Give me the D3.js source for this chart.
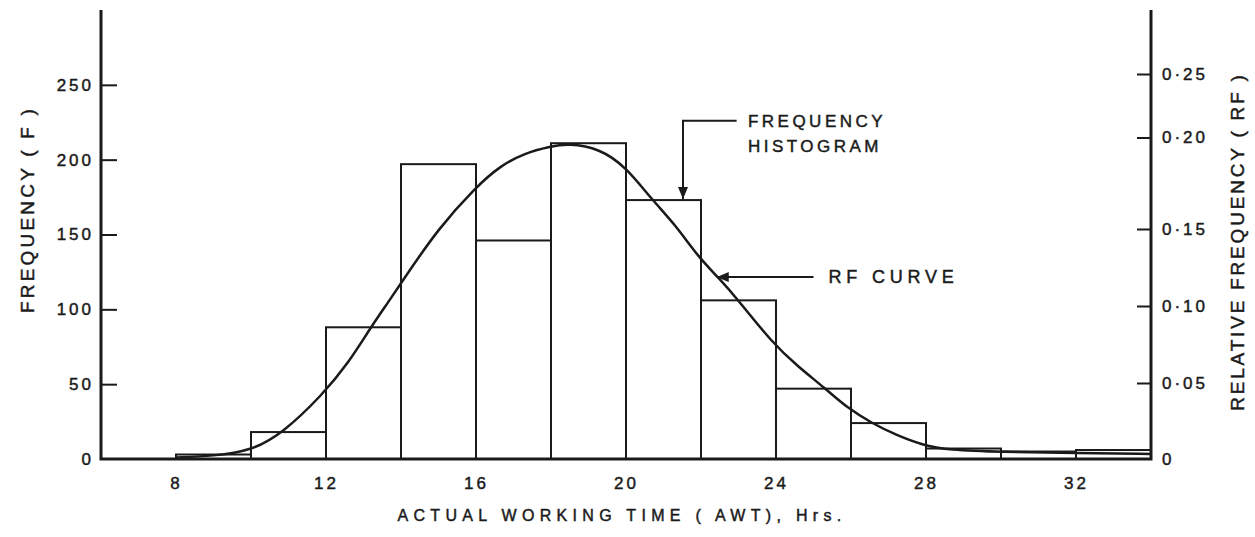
<!DOCTYPE html>
<html>
<head>
<meta charset="utf-8">
<script src="https://cdn.jsdelivr.net/npm/d3@7"></script>
<style>
  body { margin: 0; background: #fff; }
  svg { display: block; }
  text { font-family: "Liberation Sans", "DejaVu Sans", sans-serif; fill: #1a1a1a; stroke: #1a1a1a; stroke-width: 0.45px; }
</style>
</head>
<body>
<div id="chart"></div>
<script>
// histogram bins: start hour of each 2-hour class and its frequency
const binStarts = [8, 10, 12, 14, 16, 18, 20, 22, 24, 26, 28, 30, 32];
const binWidth = 2;
const frequency = [3, 18, 88, 197, 146, 211, 173, 106, 47, 24, 7, 5, 6];

// relative frequency curve
const curveHours = [8, 9, 10, 10.85, 11.9, 12.6, 13.2, 13.7, 14, 15, 16, 16.64, 17.3, 18, 18.45, 19.3, 20, 20.7, 21.3, 21.93, 22.45, 22.95, 23.9, 24.6, 25.3, 25.9, 26.55, 27.2, 27.9, 28.6, 30, 32, 34];
const curveRF = [0.001, 0.002, 0.0053, 0.0171, 0.0421, 0.063, 0.0864, 0.1039, 0.1149, 0.1505, 0.173, 0.1844, 0.1915, 0.1951, 0.1967, 0.194, 0.1839, 0.1658, 0.1527, 0.1318, 0.1188, 0.1052, 0.076, 0.0604, 0.0467, 0.0336, 0.0237, 0.0158, 0.0092, 0.0059, 0.0046, 0.0039, 0.0033];

const xTicks = [8, 12, 16, 20, 24, 28, 32];
const freqTicks = [0, 50, 100, 150, 200, 250];
const rfTicks = [0, 0.05, 0.10, 0.15, 0.20, 0.25];
const rfTickLabels = ["0", "0·05", "0·10", "0·15", "0·20", "0·25"];

const width = 1255, height = 537;
const ink = "#1a1a1a";

const svg = d3.select("#chart").append("svg")
  .attr("width", width)
  .attr("height", height);

const x = d3.scaleLinear().domain([6, 34]).range([101, 1151]);
const y = d3.scaleLinear().domain([0, 300]).range([459, 10]);
// the right-hand scale of the original is not evenly spaced
const yRF = d3.scaleLinear()
  .domain([0, 0.05, 0.10, 0.15, 0.20, 0.25, 0.30])
  .range([459, 383, 306, 229, 137.5, 74, 10]);

// arrow head
svg.append("defs").append("marker")
  .attr("id", "head")
  .attr("viewBox", "0 0 12 10")
  .attr("refX", 12).attr("refY", 5)
  .attr("markerWidth", 12).attr("markerHeight", 10)
  .attr("markerUnits", "userSpaceOnUse")
  .attr("orient", "auto")
  .append("path")
  .attr("d", "M0,0 L12,5 L0,10 Z")
  .attr("fill", ink);

// bars
svg.append("g").selectAll("rect")
  .data(binStarts)
  .join("rect")
  .attr("x", (d) => x(d))
  .attr("width", x(binWidth) - x(0))
  .attr("y", (d, i) => y(frequency[i]))
  .attr("height", (d, i) => y(0) - y(frequency[i]))
  .attr("fill", "none")
  .attr("stroke", ink)
  .attr("stroke-width", 2);

// RF curve
const line = d3.line()
  .x((d) => x(d))
  .y((d, i) => yRF(curveRF[i]))
  .curve(d3.curveBasis);

svg.append("path")
  .datum(curveHours)
  .attr("d", line)
  .attr("fill", "none")
  .attr("stroke", ink)
  .attr("stroke-width", 2.5);

// left axis
const leftAxis = svg.append("g")
  .attr("transform", `translate(${x(6)},0)`)
  .call(d3.axisLeft(y).tickValues(freqTicks).tickSizeInner(-16).tickSizeOuter(0).tickPadding(7));

// right axis
const rightAxis = svg.append("g")
  .attr("transform", `translate(${x(34)},0)`)
  .call(d3.axisRight(yRF).tickValues(rfTicks).tickSizeInner(-14).tickSizeOuter(0).tickPadding(11)
    .tickFormat((d, i) => rfTickLabels[i]));

// bottom axis
const bottomAxis = svg.append("g")
  .attr("transform", `translate(0,${y(0)})`)
  .call(d3.axisBottom(x).tickValues(xTicks).tickSize(0).tickPadding(18).tickFormat(d3.format("d")));

[leftAxis, rightAxis, bottomAxis].forEach((g) => {
  g.select(".domain").remove();
  g.selectAll(".tick line").attr("stroke", ink).attr("stroke-width", 2);
  g.selectAll(".tick text")
    .attr("fill", ink)
    .style("font-size", "17px")
    .style("letter-spacing", "3px")
    .style("font-family", "\"Liberation Sans\", sans-serif");
});
leftAxis.selectAll(".tick").filter((d) => d === 0).select("line").remove();
rightAxis.selectAll(".tick").filter((d) => d === 0).select("line").remove();

// frame lines: left, bottom, right
svg.append("path")
  .attr("d", `M${x(6)},${y(300)} V${y(0)} H${x(34)} V${y(300)}`)
  .attr("fill", "none")
  .attr("stroke", ink)
  .attr("stroke-width", 3);

// axis titles
svg.append("text")
  .attr("transform", `translate(27,${(y(0) + y(300)) / 2 - 25}) rotate(-90)`)
  .attr("text-anchor", "middle")
  .attr("dy", "0.35em")
  .style("font-size", "19px")
  .style("letter-spacing", "3.2px")
  .text("FREQUENCY ( F )");

svg.append("text")
  .attr("transform", `translate(1237,${(y(0) + y(300)) / 2 + 7}) rotate(-90)`)
  .attr("text-anchor", "middle")
  .attr("dy", "0.35em")
  .style("font-size", "19px")
  .style("letter-spacing", "2.8px")
  .text("RELATIVE FREQUENCY  ( RF )");

svg.append("text")
  .attr("x", 622)
  .attr("y", 521)
  .attr("text-anchor", "middle")
  .style("font-size", "16px")
  .style("letter-spacing", "5.3px")
  .text("ACTUAL WORKING TIME ( AWT), Hrs.");

// annotation: frequency histogram
const histTip = { h: 21.52, f: frequency[6] };
svg.append("path")
  .attr("d", `M${x(22.95)},${y(226)} H${x(histTip.h)} V${y(histTip.f) - 1}`)
  .attr("fill", "none")
  .attr("stroke", ink)
  .attr("stroke-width", 2)
  .attr("marker-end", "url(#head)");

svg.append("text")
  .attr("x", x(23.25)).attr("y", y(226))
  .attr("dy", "0.35em")
  .style("font-size", "17px")
  .style("letter-spacing", "3.5px")
  .text("FREQUENCY");
svg.append("text")
  .attr("x", x(23.25)).attr("y", y(209))
  .attr("dy", "0.35em")
  .style("font-size", "17px")
  .style("letter-spacing", "3.5px")
  .text("HISTOGRAM");

// annotation: RF curve
const rfTip = { h: 22.42, rf: 0.1188 };
svg.append("line")
  .attr("x1", x(25.0)).attr("y1", yRF(rfTip.rf))
  .attr("x2", x(rfTip.h)).attr("y2", yRF(rfTip.rf))
  .attr("stroke", ink)
  .attr("stroke-width", 2)
  .attr("marker-end", "url(#head)");

svg.append("text")
  .attr("x", x(25.4)).attr("y", yRF(rfTip.rf))
  .attr("dy", "0.35em")
  .style("font-size", "18px")
  .style("letter-spacing", "4.8px")
  .text("RF CURVE");
</script>
</body>
</html>
